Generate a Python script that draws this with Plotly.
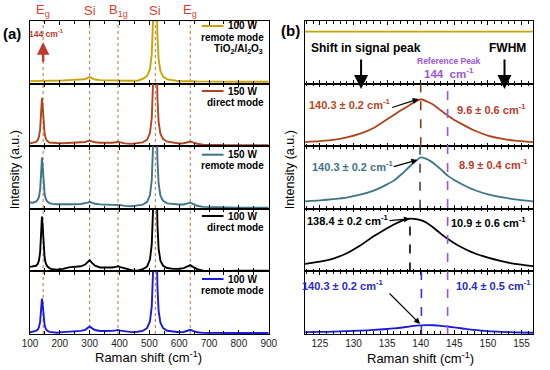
import plotly.graph_objects as go
from plotly.subplots import make_subplots

# ---------------- data ----------------
raman_x = [100, 110, 120, 126, 130, 134, 137, 140, 143, 146, 149, 153, 158, 165, 175, 190, 210, 230, 250, 270,
           285, 293, 300, 307, 318, 335, 355, 375, 388, 395, 403, 418, 440, 460, 478, 492, 502, 508, 512, 515,
           518, 521, 524, 527, 531, 537, 546, 560, 580, 600, 615, 628, 637, 646, 660, 680, 700, 730, 760, 800,
           850, 900]

remote_100w_tio2_al2o3 = [0.04, 0.04, 0.04, 0.04, 0.04, 0.04, 0.04, 0.04, 0.04, 0.04, 0.04, 0.04, 0.04, 0.04,
                          0.042, 0.045, 0.05, 0.055, 0.057, 0.06, 0.07, 0.09, 0.105, 0.088, 0.065, 0.055, 0.05, 0.047, 0.046, 0.046, 0.046, 0.045, 0.045, 0.046,
                          0.077, 0.118, 0.225, 0.465, 0.975, 2.2, 5.44, 4.19, 1.63, 0.78, 0.39, 0.2,
                          0.11, 0.068, 0.05, 0.037, 0.037, 0.04, 0.045, 0.04, 0.035, 0.033, 0.032, 0.03, 0.03, 0.03, 0.03, 0.03]
direct_150w = [0.044, 0.051, 0.069, 0.10, 0.15, 0.272, 0.494, 0.768, 0.597, 0.331, 0.198, 0.12, 0.081, 0.059,
               0.053, 0.051, 0.048, 0.05, 0.052, 0.059, 0.067, 0.08, 0.09, 0.078, 0.063, 0.055, 0.052, 0.056, 0.063, 0.07, 0.062, 0.045, 0.037, 0.045,
               0.062, 0.10, 0.21, 0.45, 0.96, 2.19, 5.43, 4.18, 1.62, 0.775, 0.39, 0.2,
               0.113, 0.072, 0.055, 0.044, 0.048, 0.062, 0.075, 0.06, 0.039, 0.025, 0.02, 0.018, 0.017, 0.017, 0.016, 0.016]
remote_150w = [0.10, 0.098, 0.115, 0.146, 0.19, 0.315, 0.54, 0.818, 0.645, 0.375, 0.237, 0.156, 0.115, 0.091,
               0.078, 0.072, 0.068, 0.07, 0.072, 0.076, 0.084, 0.099, 0.112, 0.099, 0.08, 0.07, 0.066, 0.063, 0.065, 0.067, 0.059, 0.046, 0.04, 0.054,
               0.067, 0.108, 0.215, 0.455, 0.965, 2.2, 5.44, 4.19, 1.63, 0.785, 0.4, 0.21,
               0.128, 0.087, 0.075, 0.068, 0.069, 0.084, 0.098, 0.078, 0.048, 0.03, 0.026, 0.022, 0.02, 0.018, 0.017, 0.016]
direct_100w = [0.072, 0.078, 0.09, 0.12, 0.172, 0.307, 0.562, 0.875, 0.681, 0.373, 0.217, 0.128, 0.081, 0.053,
               0.034, 0.027, 0.04, 0.065, 0.07, 0.082, 0.11, 0.145, 0.18, 0.14, 0.09, 0.062, 0.058, 0.063, 0.072, 0.083, 0.069, 0.05, 0.02, 0.012,
               0.035, 0.078, 0.19, 0.43, 0.94, 2.17, 5.41, 4.16, 1.6, 0.75, 0.36, 0.17,
               0.09, 0.054, 0.04, 0.043, 0.052, 0.08, 0.1, 0.073, 0.037, 0.012, 0.008, 0.007, 0.008, 0.012, 0.012, 0.012]
remote_100w = [0.027, 0.035, 0.05, 0.07, 0.107, 0.198, 0.363, 0.567, 0.44, 0.242, 0.141, 0.083, 0.052, 0.034,
               0.025, 0.02, 0.03, 0.037, 0.04, 0.05, 0.067, 0.095, 0.12, 0.094, 0.064, 0.048, 0.045, 0.05, 0.057, 0.065, 0.054, 0.04, 0.03, 0.035,
               0.05, 0.093, 0.2, 0.44, 0.95, 2.18, 5.42, 4.17, 1.61, 0.76, 0.37, 0.18,
               0.093, 0.052, 0.035, 0.027, 0.032, 0.051, 0.067, 0.049, 0.027, 0.018, 0.016, 0.016, 0.016, 0.016, 0.015, 0.015]

zoom_x = [122.8, 125, 127, 129, 131, 133, 135, 136, 137, 138, 139, 140, 141, 142, 143, 144, 145, 146, 148, 150, 152, 154, 156.7]
zoom_gold_x = [122.8, 156.7]
zoom_gold_y = [0.83, 0.83]
zoom_direct_150w = [0.065, 0.08, 0.10, 0.14, 0.20, 0.29, 0.43, 0.50, 0.57, 0.635, 0.70, 0.75, 0.71, 0.655, 0.57, 0.49, 0.42, 0.36, 0.25, 0.17, 0.12, 0.09, 0.065]
zoom_remote_150w = [0.12, 0.135, 0.155, 0.18, 0.225, 0.29, 0.39, 0.45, 0.54, 0.64, 0.74, 0.82, 0.79, 0.72, 0.63, 0.53, 0.46, 0.40, 0.30, 0.23, 0.185, 0.15, 0.12]
zoom_direct_100w = [0.12, 0.155, 0.205, 0.29, 0.415, 0.56, 0.69, 0.75, 0.80, 0.84, 0.84, 0.82, 0.77, 0.69, 0.60, 0.52, 0.45, 0.39, 0.29, 0.22, 0.165, 0.12, 0.085]
zoom_remote_100w = [0.03, 0.033, 0.038, 0.045, 0.053, 0.065, 0.08, 0.09, 0.10, 0.115, 0.13, 0.138, 0.142, 0.14, 0.13, 0.12, 0.105, 0.092, 0.065, 0.045, 0.033, 0.025, 0.02]

legend_power = ["100 W", "150 W", "150 W", "100 W", "100 W"]
legend_mode = ["remote mode", "direct mode", "remote mode", "direct mode", "remote mode"]
legend_extra = ["TiO<sub>2</sub>/Al<sub>2</sub>O<sub>3</sub>", "", "", "", ""]

mode_positions = [144, 300, 395, 520, 637]
mode_labels = ["E<sub>g</sub>", "Si", "B<sub>1g</sub>", "Si", "E<sub>g</sub>"]

peak_centers = [140.0, 139.9, 138.4, 140.1]   # dashed markers, panels 2-5 (right)
peak_texts = ["140.3 ± 0.2 cm<sup>-1</sup>", "140.3 ± 0.2 cm<sup>-1</sup>", "138.4 ± 0.2 cm<sup>-1</sup>", "140.3 ± 0.2 cm<sup>-1</sup>"]
fwhm_texts = ["9.6 ± 0.6 cm<sup>-1</sup>", "8.9 ± 0.4 cm<sup>-1</sup>", "10.9 ± 0.6 cm<sup>-1</sup>", "10.4 ± 0.5 cm<sup>-1</sup>"]
reference_peak = 144

for arr in [remote_100w_tio2_al2o3, direct_150w, remote_150w, direct_100w, remote_100w]:
    assert len(arr) == len(raman_x)
for arr in [zoom_direct_150w, zoom_remote_150w, zoom_direct_100w, zoom_remote_100w]:
    assert len(arr) == len(zoom_x)

# ---------------- style ----------------
colors = ["#c9a400", "#b0441c", "#3d7588", "#000000", "#1a1adb"]
peak_text_colors = ["#b5481f", "#3f7386", "#000000", "#2a2ad0"]
fwhm_text_colors = ["#c0392b", "#c0392b", "#000000", "#2a2ad0"]
dash_colors = ["#7a3b1e", "#3a4a5a", "#000000", "#3333cc"]
FONT = "Liberation Sans, Arial, sans-serif"
PURPLE = "#9b55dd"

L, T, W, H = 30, 21, 512, 313


def P(px, py):
    return (px - L) / W, (T + H - py) / H


fig = make_subplots(rows=5, cols=2, vertical_spacing=0, horizontal_spacing=37 / 512,
                    column_widths=[243, 232])

left_series = [remote_100w_tio2_al2o3, direct_150w, remote_150w, direct_100w, remote_100w]
right_series = [None, zoom_direct_150w, zoom_remote_150w, zoom_direct_100w, zoom_remote_100w]

for i in range(5):
    fig.add_trace(go.Scatter(x=raman_x, y=left_series[i], mode="lines",
                             line=dict(color=colors[i], width=1.9), showlegend=False),
                  row=i + 1, col=1)
    if i == 0:
        fig.add_trace(go.Scatter(x=zoom_gold_x, y=zoom_gold_y, mode="lines",
                                 line=dict(color=colors[0], width=1.8), showlegend=False),
                      row=1, col=2)
    else:
        fig.add_trace(go.Scatter(x=zoom_x, y=right_series[i], mode="lines",
                                 line=dict(color=colors[i], width=1.8, shape="spline", smoothing=0.6),
                                 showlegend=False),
                      row=i + 1, col=2)

axis_common = dict(showline=True, linecolor="black", linewidth=1.2, mirror="ticks",
                   showgrid=False, zeroline=False, ticks="inside", tickcolor="black",
                   tickfont=dict(size=10, family=FONT, color="#222"))
for r in range(1, 6):
    fig.update_xaxes(range=[100, 900], tick0=100, dtick=100, ticklen=3.5, tickwidth=1,
                     minor=dict(ticks="inside", dtick=50, ticklen=3, tickcolor="black"),
                     showticklabels=(r == 5), row=r, col=1, **axis_common)
    fig.update_xaxes(range=[122.8, 156.7], tick0=125, dtick=5, ticklen=3.5, tickwidth=1,
                     minor=dict(ticks="inside", dtick=1, ticklen=2.5, tickcolor="black"),
                     showticklabels=(r == 5), row=r, col=2, **axis_common)
    for c in (1, 2):
        fig.update_yaxes(range=[0, 1], showticklabels=False, ticks="", showline=True,
                         linecolor="black", linewidth=1.2, mirror=True, showgrid=False,
                         zeroline=False, row=r, col=c)

shapes = []
for m in mode_positions:
    shapes.append(dict(type="line", xref="x", yref="paper", x0=m, x1=m, y0=0, y1=1,
                       line=dict(color="#c0703f", width=1, dash="dot"), layer="below"))
shapes.append(dict(type="line", xref="x2", yref="paper", x0=reference_peak, x1=reference_peak,
                   y0=0, y1=0.8, line=dict(color=PURPLE, width=1.6, dash="dash")))
for k in range(4):
    ax_idx = 2 * (k + 2)
    top = 0.84 if k == 2 else 1
    shapes.append(dict(type="line", xref=f"x{ax_idx}", yref=f"y{ax_idx}",
                       x0=peak_centers[k], x1=peak_centers[k], y0=0, y1=top,
                       line=dict(color=dash_colors[k], width=1.6, dash="dash")))
# legend line samples (left panels)
panel_tops = [T + H * i / 5 for i in range(5)]
line_offsets = [5, 7.4, 8.5, 7.2, 7.6]
for i in range(5):
    x0, y0 = P(205, panel_tops[i] + line_offsets[i])
    x1, _ = P(227, 0)
    shapes.append(dict(type="line", xref="paper", yref="paper", x0=x0, x1=x1, y0=y0, y1=y0,
                       line=dict(color=colors[i], width=2)))

ann = []


def text(px, py, s, size, color="black", bold=True, xanchor="center", angle=0):
    x, y = P(px, py)
    ann.append(dict(x=x, y=y, xref="paper", yref="paper", text=(f"<b>{s}</b>" if bold else s),
                    showarrow=False, xanchor=xanchor, yanchor="middle", textangle=angle,
                    font=dict(size=size, color=color, family=FONT)))


text(12, 33, "(a)", 15)
text(295, 31, "(b)", 15)
for m, lab in zip(mode_positions, mode_labels):
    _, y = P(0, 10)
    ann.append(dict(x=m, y=y, xref="x", yref="paper", text=lab, showarrow=False,
                    yanchor="middle", font=dict(size=13, color="#e0402a", family=FONT)))
# red arrow in top-left panel
ann.append(dict(x=144, y=0.66, xref="x", yref="y", ax=0, ay=21, text="", showarrow=True,
                arrowhead=2, arrowsize=1, arrowwidth=2.5, arrowcolor="#c0392b"))
text(47, 33, "144 cm<sup>-1</sup>", 8.5, "#c0392b")

for i in range(5):
    tp = panel_tops[i]
    text(230, tp + line_offsets[i], legend_power[i], 10, xanchor="left")
    text(270, tp + line_offsets[i] + 11, legend_mode[i], 10, xanchor="right")
    if legend_extra[i]:
        text(269, tp + line_offsets[i] + 23, legend_extra[i], 10, xanchor="right")

text(372, 48, "Shift in signal peak", 12)
text(516, 48, "FWHM", 12)
for hx in (367, 513):
    x, y = P(hx, 89)
    ann.append(dict(x=x, y=y, xref="paper", yref="paper", ax=0, ay=-31, text="", showarrow=True,
                    arrowhead=2, arrowsize=1.4, arrowwidth=2, arrowcolor="black"))
text(457, 61, "Reference Peak", 8.5, PURPLE)
text(457, 72.5, "144  cm<sup>-1</sup>", 11.5, PURPLE)

peak_text_pos = [(355, 104), (358, 166), (353, 220), (348, 285)]
fwhm_text_pos = [(500, 109), (502, 164), (497, 222), (502, 285)]
arrow_heads = [(139.7, 0.755), (139.5, 0.78), (138.4, 0.84), (139.9, 0.16)]
arrow_offsets = [(-28, 9), (-25, 7), (-22, 2), (-32, -32)]
for k in range(4):
    text(*peak_text_pos[k], peak_texts[k], 11, peak_text_colors[k])
    text(*fwhm_text_pos[k], fwhm_texts[k], 11, fwhm_text_colors[k])
    ax_idx = 2 * (k + 2)
    ann.append(dict(x=arrow_heads[k][0], y=arrow_heads[k][1], xref=f"x{ax_idx}", yref=f"y{ax_idx}",
                    ax=arrow_offsets[k][0], ay=arrow_offsets[k][1], text="", showarrow=True,
                    arrowhead=2, arrowsize=1, arrowwidth=1.2, arrowcolor="black"))

text(15, 170, "Intensity (a.u.)", 12.5, bold=False, angle=-90)
text(295, 170, "Intensity (a.u.)", 12.5, bold=False, angle=-90)
text(151, 357, "Raman shift (cm<sup>-1</sup>)", 13, bold=False)
text(427, 358, "Raman shift (cm<sup>-1</sup>)", 13, bold=False)

fig.update_layout(width=550, height=370, margin=dict(l=L, r=550 - L - W, t=T, b=370 - T - H),
                  paper_bgcolor="white", plot_bgcolor="white", shapes=shapes, annotations=ann,
                  font=dict(family=FONT, color="black"), showlegend=False)

fig.write_html("out.html", config={"displayModeBar": False},
               post_script="document.body.style.margin='0';document.body.style.overflow='hidden';")
